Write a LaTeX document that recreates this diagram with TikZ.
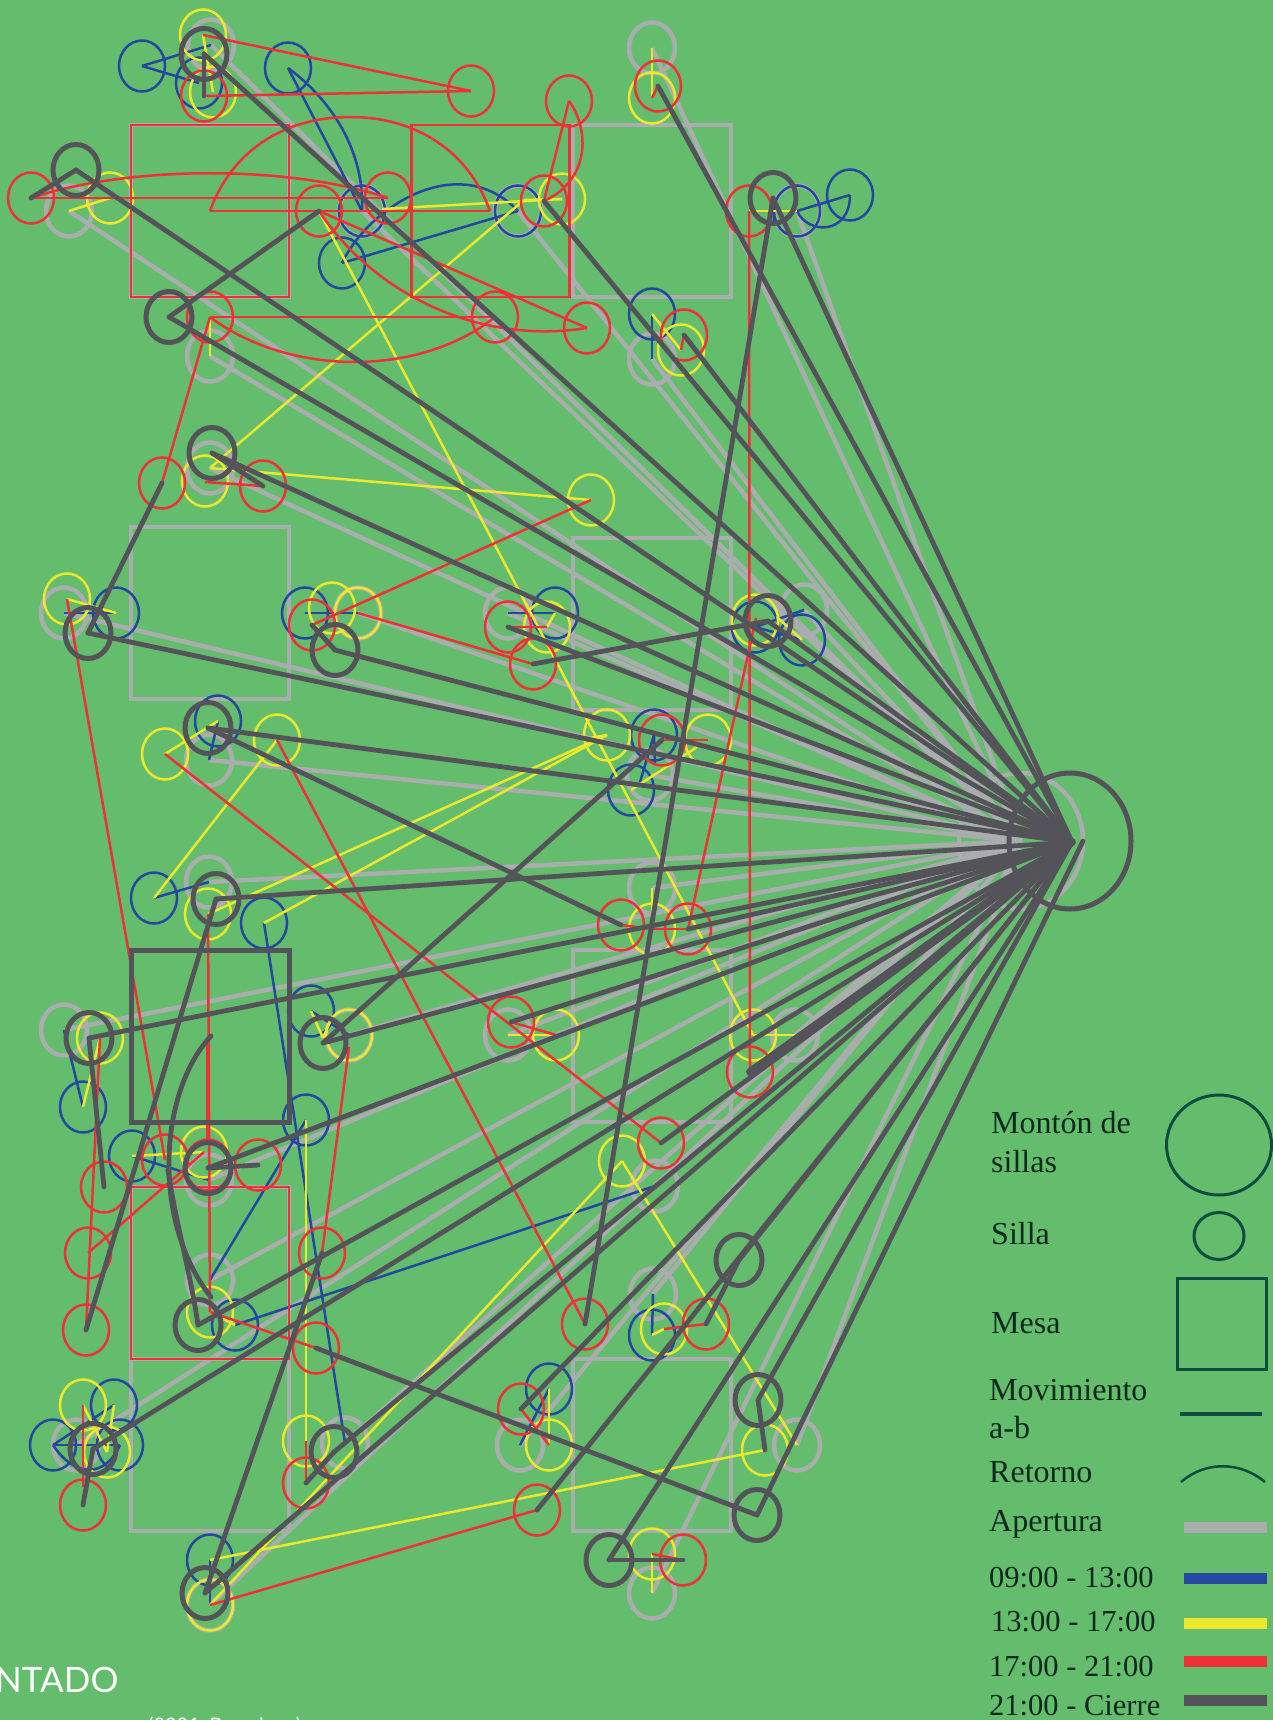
\documentclass[tikz,border=0pt]{standalone}
\usepackage{fontspec}
\setmainfont{Liberation Serif}
\newfontfamily\lato{Lato}
\usetikzlibrary{shapes.geometric}
\definecolor{cbg}{RGB}{99,189,108}
\definecolor{cgr}{RGB}{170,173,173}
\definecolor{cbl}{RGB}{37,71,159}
\definecolor{cye}{RGB}{235,232,45}
\definecolor{cre}{RGB}{239,48,55}
\definecolor{cda}{RGB}{85,83,90}
\definecolor{cgn}{RGB}{13,76,63}
\definecolor{ctx}{RGB}{10,40,28}
\tikzset{
 chair/.style={ellipse,minimum width=46pt,minimum height=51pt,inner sep=0pt},
 gseat/.style={chair,draw=cgr,line width=4.5pt},
 bseat/.style={chair,draw=cbl,line width=2.5pt},
 yseat/.style={chair,draw=cye,line width=2.5pt},
 rseat/.style={chair,draw=cre,line width=2.5pt},
 dseat/.style={chair,draw=cda,line width=5pt},
 mesa/.style={rectangle,minimum width=158pt,minimum height=172pt,inner sep=0pt},
 gl/.style={draw=cgr,line width=4.5pt},
 bl/.style={draw=cbl,line width=2.5pt},
 yl/.style={draw=cye,line width=2.5pt},
 rl/.style={draw=cre,line width=2.5pt},
 dl/.style={draw=cda,line width=4.8pt,line cap=round},
 legw/.style={anchor=base west,inner sep=0pt,text=ctx,font=\fontsize{32}{32}\selectfont},
 legn/.style={anchor=base west,inner sep=0pt,text=ctx,font=\fontsize{30.5}{31}\selectfont},
 legbar/.style={rectangle,minimum width=83pt,minimum height=11pt,inner sep=0pt},
}
\begin{document}
\begin{tikzpicture}[x=1pt,y=-1pt]
\useasboundingbox (0,0) rectangle (1273,1720);
\fill[cbg] (0,0) rectangle (1273,1720);
% shared points
\foreach \n/\x/\y in {hub/1072/842,hubb/1083/841,p1/210/211,p2/490/211,p3/210/317,p5/319/211,p12/749/211,
 ya/382/209,yb/524/200,ye/777/617,yf/697/747,yg/590/738,yh/323/1038,yi/330/1022,
 q1/640/782,q2/655/765,q3/774/222,q4/773/198,
 qr1/205/482,qr2/756/618,qr3/349/1047,qr4/83/1487,qr5/208/1037,qr6/208/1140,
 da/211/1036,dc/211/1297}
 \coordinate (\n) at (\x,\y);
% tables
\foreach \n/\x/\y in {1/210/211,2/652/211,3/210/613,4/652/624,5/652/1036,6/210/1273,7/210/1445,8/652/1445}
 \node[mesa,draw=cgr,line width=4.5pt] (tg\n) at (\x,\y) {};
% grey layer
\node[chair,draw=cgr,line width=4.5pt,minimum width=124pt,minimum height=136pt] (heapg) at (1021,841) {};
\foreach \n/\x/\y in {1/211/45,2/69/211,3/210/356,4/652/48,5/652/359,6/797/211,7/210/468,8/64/613,9/358/613,10/508/613,
 11/804/610,12/209/760,13/650/775,14/209/882,15/652/888,16/64/1030,17/349/1035,18/508/1035,19/795/1035,20/209/1180,
 21/655/1186,22/210/1280,23/653/1294,24/76/1445,25/345/1443,26/520/1445,27/797/1445,28/210/1605,29/652/1593,30/362/211,31/518/211}
 {\node[gseat] (g\n) at (\x,\y) {};
  \draw[gl] (heapg.center) -- (g\n.center);}
% blue layer
\foreach \n/\x/\y in {1/142/66,2/199/83,3/288/68,4/362/211,5/342/263,6/518/211,7/797/211,8/850/195,9/652/314,10/116/613,
 11/305/613,12/555/613,13/218/721,14/654/735,15/631/790,16/755/627,17/802/640,18/154/898,19/264/923,20/83/1107,
 21/311/1011,22/306/1120,23/132/1156,24/235/1325,25/114/1405,26/53/1445,27/120/1445,28/210/1560,29/549/1389,30/652/1335}
 \node[bseat] (b\n) at (\x,\y) {};
\foreach \a/\b in {g1/b1,b1/b2,b3/b4,b5/b6,g6/b8,g5/b9,g8/b10,b11/g9,g10/b12,b13/g12,b14/q1,b14/q2,g11/b16,b16/b17,
 b18/g14,b19/g25,g16/b20,b21/g17,b22/g22,b23/g20,b24/g21,b26/b25,b26/b27,b28/g28,b29/g26,b30/g23,q4/q3}
 \draw[bl] (\a.center) -- (\b.center);
\draw[bl] (b3.center) .. controls (325,95) and (365,145) .. (b4.center);
\draw[bl] (b5.center) .. controls (370,205) and (460,150) .. (b6.center);
\draw[bl] (g6.center) .. controls (808,235) and (850,235) .. (b8.center);
\draw[bl] (b26.center) .. controls (75,1478) and (105,1478) .. (b27.center);
% yellow layer
\foreach \n/\x/\y in {1/203/35,2/213/92,3/110/198,4/562/199,5/652/98,6/205/481,7/591/500,8/67/599,9/332/608,10/358/613,
 11/547/627,12/755/620,13/607/735,14/708/740,15/165/754,16/277/740,17/208/914,18/100/1038,19/349/1035,20/556/1035,
 21/753/1035,22/204/1152,23/622/1161,24/664/1329,25/210/1312,26/83/1405,27/107/1452,28/306/1441,29/549/1445,30/765/1450,
 31/652/1554,32/210/1605,33/681/350,34/652/929}
 \node[yseat] (y\n) at (\x,\y) {};
\foreach \a/\b in {y1/y2,g2/y3,ya/y4,y4/yb,yb/g7,p5/y21,g3/p3,g4/y5,b9/y33,y7/g7,y8/b10,b12/y11,ye/b17,b15/yf,yg/y13,
 y13/y17,y13/b19,y15/b13,y16/b18,b20/y18,b21/yh,yh/yi,b23/y22,b22/y28,y25/b24,y23/y32,y23/g27,y26/y27,y27/b25,y30/b28,
 b29/y29,g19/y21,g18/y20,y31/g29,y34/g15,b30/y24,p12/g6}
 \draw[yl] (\a.center) -- (\b.center);
% red layer
\node[mesa,draw=cre,line width=2.5pt] (tr1) at (210,211) {};
\node[mesa,draw=cre,line width=2.5pt] (tr2) at (490.5,211) {};
\node[mesa,draw=cre,line width=2.5pt] (tr3) at (210,1273) {};
\foreach \n/\x/\y in {1/204/96,2/471/91,3/31/198,4/388/198,5/319/211,6/544/201,7/569/101,8/495/317,9/587/328,10/210/317,
 11/658/86,12/749/211,13/684/335,14/162/483,15/263/486,16/508/627,17/533/664,18/312/625,20/662/740,21/621/925,22/688/929,
 23/511/1022,24/750/1072,25/661/1143,26/585/1324,27/706/1324,28/322/1253,29/104/1187,30/88/1253,31/86/1330,32/165/1160,
 33/258/1165,34/208/1165,35/316/1348,36/306/1483,37/83/1505,38/521/1409,39/537/1510,40/683/1560}
 \node[rseat] (r\n) at (\x,\y) {};
\foreach \a/\b in {y1/r2,r2/r1,r3/r4,p1/p2,p5/r9,r10/r8,r6/r7,r10/r14,y5/r11,r12/r24,y33/r13,qr1/r15,y7/r18,y8/r32,g9/r17,
 r16/y11,y15/r25,y16/r26,r20/y14,r21/y34,y34/r22,r22/qr2,r23/y20,y17/y25,y18/r31,y22/r30,y24/r27,qr3/r28,y25/r35,y26/qr4,
 y28/r36,r38/y29,r39/y32,y31/r40}
 \draw[rl] (\a.center) -- (\b.center);
\draw[rl,line width=4pt] (qr5) -- (qr6);
\draw[rl] (r3.center) .. controls (130,165) and (290,165) .. (r4.center);
\draw[rl] (p1) .. controls (232,150) and (285,117) .. (350,117) .. controls (415,117) and (468,150) .. (p2);
\draw[rl] (r5.center) .. controls (375,295) and (480,345) .. (r9.center);
\draw[rl] (r10.center) .. controls (290,377) and (420,377) .. (r8.center);
\draw[rl] (r7.center) .. controls (590,130) and (590,180) .. (r6.center);
% dark layer
\node[mesa,draw=cda,line width=5pt] (td) at (210,1036.5) {};
\node[chair,draw=cda,line width=5pt,minimum width=122pt,minimum height=136pt] (heapd) at (1070,841) {};
\foreach \n/\x/\y in {1/204/54,2/76/170,3/169/317,4/773/198,5/212/453,6/88/633,7/335/650,8/768/621,9/208/728,10/216/899,
 11/89/1038,12/323/1043,13/208/1168,14/198/1325,15/739/1260,16/758/1400,17/757/1515,18/93/1449,19/334/1452,20/205/1593,21/609/1560}
 \node[dseat] (d\n) at (\x,\y) {};
\foreach \a in {d1,d2,d3,r6,r11,d4,r13,d5,d6,d7,r16,d8,d9,d10,r22,d11,d12,r23,d13,r25,d14,d15,d16,d18,d19,r38,r39,d20,d21}
 \draw[dl] (\a.center) -- (hub);
\draw[dl,line width=8pt] (r24.center) -- (hub);
\draw[dl] (d17.center) -- (hubb);
\foreach \a/\b in {d1/r1,d2/r3,d3/r5,d4/r26,r14/d6,r15/d5,r18/d7,r17/d8,d9/r21,d12/r20,r29/d11,d10/r31,d13/r33,r28/d20,r35/d17,
 r27/d15,y30/d16,r37/d18,r36/d19,r40/d21}
 \draw[dl] (\a.center) -- (\b.center);
\draw[dl] (da) .. controls (160,1090) and (150,1220) .. (dc);
\draw[dl] (d14.center) .. controls (190,1270) and (175,1220) .. (168,1170);
% legend
\node[legw] (t1) at (991,1133) {Montón de};
\node[legw] (t2) at (991,1172) {sillas};
\node[legw] (t3) at (991,1244) {Silla};
\node[legw] (t4) at (991,1333) {Mesa};
\node[legw] (t5) at (989,1400) {Movimiento};
\node[legw] (t6) at (989,1438) {a-b};
\node[legw] (t7) at (989,1482) {Retorno};
\node[legw] (t8) at (989,1531) {Apertura};
\node[legn] (t9) at (989,1587) {09:00 - 13:00};
\node[legn] (t10) at (991,1631) {13:00 - 17:00};
\node[legn] (t11) at (989,1676) {17:00 - 21:00};
\node[legn] (t12) at (989,1715) {21:00 - Cierre};
\node[ellipse,draw=cgn,line width=3pt,minimum width=105pt,minimum height=100pt,inner sep=0pt] (lheap) at (1219,1145) {};
\node[ellipse,draw=cgn,line width=3pt,minimum width=50pt,minimum height=47pt,inner sep=0pt] (lchair) at (1219,1236) {};
\node[rectangle,draw=cgn,line width=3pt,minimum width=89pt,minimum height=91pt,inner sep=0pt] (lmesa) at (1221.5,1323.5) {};
\coordinate (lma) at (1180,1414); \coordinate (lmb) at (1262,1414);
\draw[draw=cgn,line width=4.5pt] (lma) -- (lmb);
\coordinate (lra) at (1181,1482); \coordinate (lrb) at (1265,1482);
\draw[draw=cgn,line width=2.5pt] (lra) .. controls (1205,1461) and (1240,1461) .. (lrb);
\node[legbar,fill=cgr] (lb1) at (1225.5,1527.5) {};
\node[legbar,fill=cbl] (lb2) at (1225.5,1578.5) {};
\node[legbar,fill=cye] (lb3) at (1225.5,1623) {};
\node[legbar,fill=cre] (lb4) at (1225.5,1661) {};
\node[legbar,fill=cda] (lb5) at (1225.5,1700.5) {};
% cropped caption
\node[anchor=base west,inner sep=0pt,text=white,font=\lato\fontsize{35}{35}\selectfont] (cap1) at (-5,1692) {NTADO};
\node[anchor=base west,inner sep=0pt,text=white,font=\lato\fontsize{20}{20}\selectfont] (cap2) at (148,1732) {(2021, Barcelona)};
\end{tikzpicture}
\end{document}
